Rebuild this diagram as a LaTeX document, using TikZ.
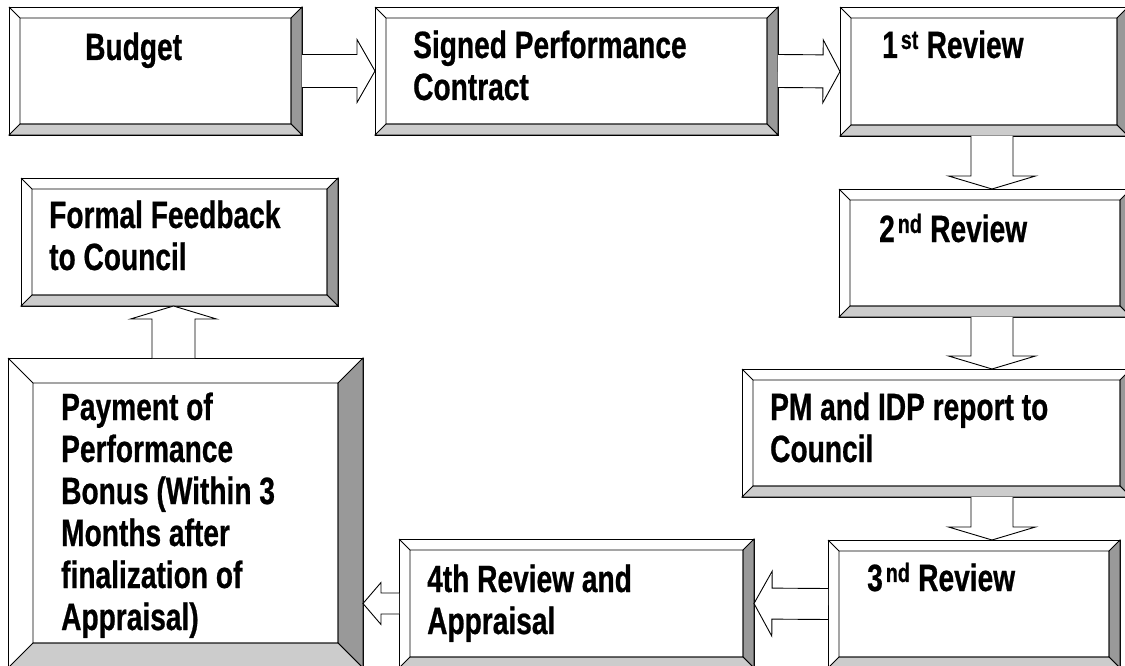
\documentclass[tikz,border=0pt]{standalone}
\usepackage{fontspec}
\newfontfamily\boxfont{Liberation Sans}[FakeStretch=0.74,FakeBold=0.6]
\usetikzlibrary{calc}
\definecolor{bevdark}{RGB}{153,153,153}
\definecolor{bevlight}{RGB}{204,204,204}

\begin{document}
\begin{tikzpicture}[x=1pt,y=-1pt]

		\def\sup#1{\kern3pt\textsuperscript{#1}}

		\tikzset{line/.style={draw,line width=0.9pt}}
		\tikzset{box/.style={line,fill=white,inner sep=0pt,outer sep=0pt,anchor=north west}}
		% base of a text is the baseline of its last line
		\tikzset{txt/.style={inner sep=0pt,anchor=base west,align=left,font={\boxfont\bfseries\fontsize{38}{42}\selectfont}}}

		% Block arrow: from/to/shaft/head/length
		\tikzset{pics/blockarrow/.style args={#1/#2/#3/#4/#5}{code={%
							\coordinate (hb) at ($(#2)!#5pt!(#1)$);
							\draw[line,fill=white,line join=miter] ($(#1)!#3pt!90:(#2)$) -- ($(hb)!#3pt!-90:(#1)$) -- ($(hb)!#4pt!-90:(#1)$) -- (#2) -- ($(hb)!#4pt!90:(#1)$) -- ($(hb)!#3pt!90:(#1)$) -- ($(#1)!#3pt!-90:(#2)$);
						}}}

		\useasboundingbox (0,0) rectangle (1125,666);

		\node[box, minimum width=293pt, minimum height=128pt] (budget) at (9,7) {};
		\node[box, minimum width=403pt, minimum height=128pt] (contract) at (375,7) {};
		\node[box, minimum width=288pt, minimum height=129pt] (review1) at (840,7) {};
		\node[box, minimum width=292pt, minimum height=128pt] (review2) at (839,189) {};
		\node[box, minimum width=389pt, minimum height=128pt] (pmreport) at (742,369) {};
		\node[box, minimum width=292pt, minimum height=128pt] (review3) at (828,540) {};
		\node[box, minimum width=355pt, minimum height=129pt] (review4) at (399,539) {};
		\node[box, minimum width=355pt, minimum height=310pt] (payment) at (8,358) {};
		\node[box, minimum width=317pt, minimum height=128pt] (feedback) at (21,178) {};

		\foreach \b/\w in {budget/11,contract/11,review1/11,review2/11,pmreport/11,review3/11,review4/11,payment/25,feedback/11}{
			\coordinate (i1) at ($(\b.north west)+(\w,\w)$);
			\coordinate (i2) at ($(\b.south east)+(-\w,-\w)$);
			\draw[line,fill=bevdark] (\b.north east) -- (\b.south east) -- (i2) -- (i2 |- i1) -- cycle;
			\draw[line,fill=bevlight] (\b.south west) -- (\b.south east) -- (i2) -- (i1 |- i2) -- cycle;
			\draw[line] (\b.north west) -- (i1) rectangle (i2);
		}

		\node[txt] (tbudget) at (85,60) {Budget};
		\node[txt] (tcontract) at (413,100) {Signed Performance\\Contract};
		\node[txt] (treview1) at (882,58) {1\sup{st} Review};
		\node[txt] (treview2) at (879,242) {2\sup{nd} Review};
		\node[txt] (tpmreport) at (770,462) {PM and IDP report to\\Council};
		\node[txt] (treview3) at (867,591) {3\sup{nd} Review};
		\node[txt] (treview4) at (427,634) {4th Review and\\Appraisal};
		\node[txt] (tpayment) at (61,630) {Payment of\\Performance\\Bonus (Within 3\\Months after\\finalization of\\Appraisal)};
		\node[txt] (tfeedback) at (49,270) {Formal Feedback\\to Council};

		\coordinate (col) at (992,0);
		\coordinate (col2) at (173.5,0);

		\pic {blockarrow=budget.east/contract.west/16.5/31.5/18};
		\pic {blockarrow=contract.east/review1.west/16.5/31.5/17};
		\pic {blockarrow=review1.south -| col/review2.north -| col/21/43.5/13};
		\pic {blockarrow=review2.south -| col/pmreport.north -| col/21/43.5/13};
		\pic {blockarrow=pmreport.south -| col/review3.north -| col/21/43.5/13};
		\pic {blockarrow=review3.west/review4.east/15.5/32.5/18};
		\pic {blockarrow=review4.west/review4.west -| payment.east/10.5/21/18};
		\pic {blockarrow=payment.north -| col2/feedback.south -| col2/21.5/43/13};

	\end{tikzpicture}
\end{document}
